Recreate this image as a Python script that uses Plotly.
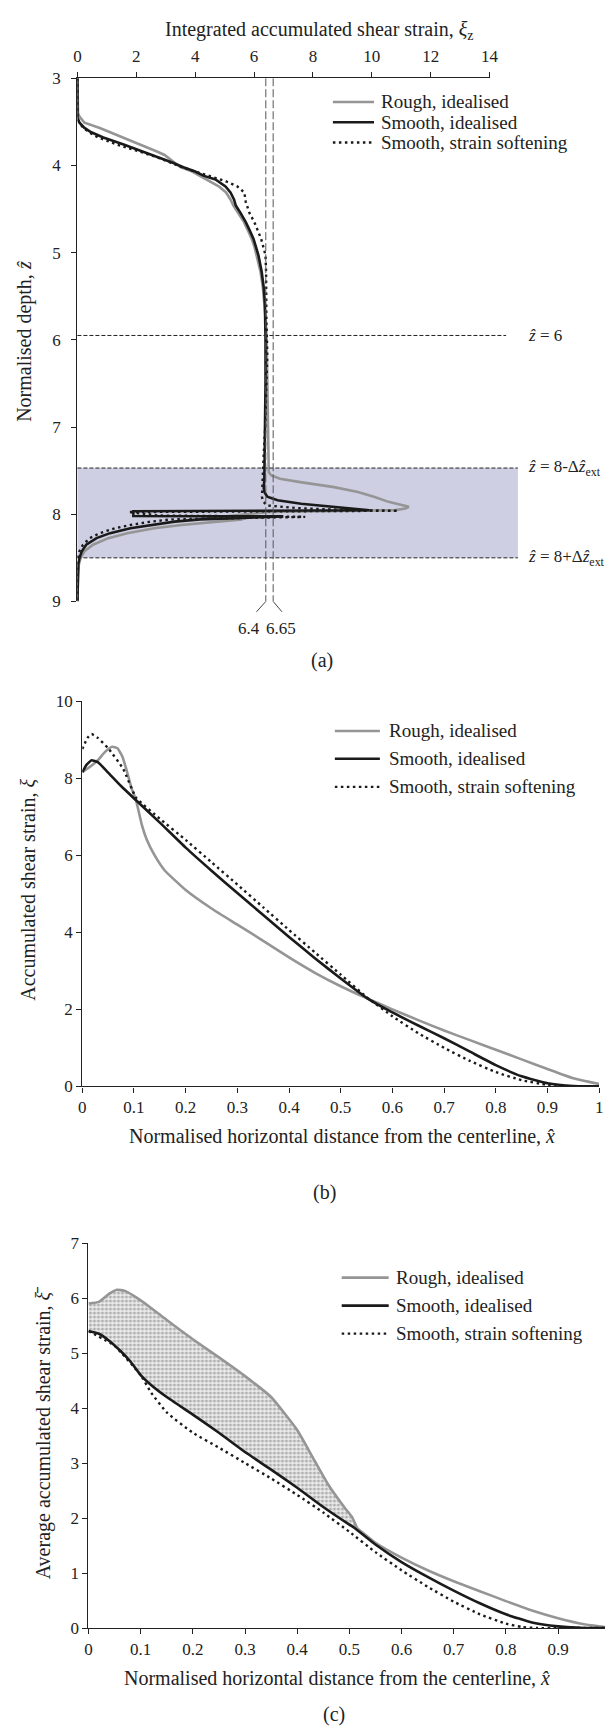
import plotly.graph_objects as go

W, H = 615, 1733
SERIF = "Liberation Serif, Times New Roman, Times, serif"
BLACK = "#1a1a1a"
GRAY = "#959595"

series_names = ["Rough, idealised", "Smooth, idealised", "Smooth, strain softening"]

# ---------------- (a) integrated strain vs depth ----------------
a_rough_z = [3.0, 3.3, 3.4, 3.44, 3.51, 3.57, 3.63, 3.68, 3.74, 3.79,
             3.84, 3.88, 3.93, 3.97, 4.02, 4.07, 4.12, 4.18, 4.24, 4.31,
             4.39, 4.46, 4.55, 4.65, 4.75, 4.84, 4.94, 5.03, 5.22, 5.4,
             5.59, 5.78, 6.0, 6.5, 7.0, 7.3, 7.47, 7.52, 7.556, 7.594,
             7.632, 7.689, 7.745, 7.802, 7.858, 7.896, 7.915, 7.934, 7.953, 7.975,
             8.04, 8.059, 8.085, 8.123, 8.16, 8.217, 8.274, 8.35, 8.425, 8.5,
             8.575, 8.7, 9.0]
a_rough_x = [0, 0, 0.02, 0.07, 0.24, 0.76, 1.2, 1.57, 2.0, 2.38,
             2.7, 2.96, 3.15, 3.3, 3.5, 3.9, 4.15, 4.5, 4.8, 5.05,
             5.2, 5.3, 5.48, 5.66, 5.8, 5.92, 6.02, 6.09, 6.22, 6.30,
             6.36, 6.4, 6.43, 6.45, 6.46, 6.47, 6.48, 6.5, 6.59, 6.88,
             7.57, 8.72, 9.53, 10.1, 10.57, 10.97, 11.26, 11.14, 10.8, 6.5,
             4.5, 5.61, 4.68, 3.53, 2.61, 1.69, 1.05, 0.53, 0.24, 0.11,
             0.05, 0.02, 0.0]

a_smooth_z = [3.0, 3.45, 3.51, 3.57, 3.62, 3.68, 3.76, 3.83, 3.9, 3.97,
              4.02, 4.07, 4.12, 4.16, 4.24, 4.31, 4.39, 4.46, 4.55, 4.65,
              4.75, 4.84, 4.94, 5.03, 5.22, 5.4, 5.59, 5.78, 6.0, 6.5,
              7.0, 7.3, 7.5, 7.6, 7.7, 7.75, 7.8, 7.84, 7.88, 7.91,
              7.94, 7.955, 7.965, 8.02, 8.025, 8.059, 8.085, 8.123, 8.16, 8.217,
              8.274, 8.35, 8.425, 8.5, 8.575, 9.0]
a_smooth_x = [0, 0, 0.07, 0.24, 0.47, 0.88, 1.57, 2.15, 2.72, 3.24,
              3.6, 4.0, 4.3, 4.69, 5.03, 5.2, 5.32, 5.38, 5.55, 5.72,
              5.86, 5.98, 6.07, 6.15, 6.26, 6.33, 6.37, 6.39, 6.39, 6.39,
              6.38, 6.38, 6.37, 6.35, 6.33, 6.36, 6.45, 6.8, 7.6, 8.6,
              9.5, 9.93, 1.9, 1.9, 6.99, 4.17, 3.30, 2.49, 1.80, 1.11,
              0.65, 0.30, 0.15, 0.07, 0.03, 0.0]

a_soft_z = [3.0, 3.45, 3.52, 3.58, 3.63, 3.68, 3.76, 3.83, 3.9, 3.97,
            4.02, 4.07, 4.12, 4.18, 4.24, 4.31, 4.42, 4.55, 4.65, 4.75,
            4.84, 4.94, 5.03, 5.22, 5.4, 5.6, 5.8, 6.0, 6.2, 6.5,
            7.0, 7.3, 7.5, 7.6, 7.7, 7.8, 7.85, 7.9, 7.93, 7.95,
            7.96, 7.975, 8.015, 8.03, 8.059, 8.085, 8.123, 8.16, 8.217, 8.274,
            8.35, 8.425, 8.5, 9.0]
a_soft_x = [0, 0, 0.07, 0.24, 0.45, 0.71, 1.34, 2.03, 2.66, 3.18,
            3.55, 4.0, 4.46, 5.03, 5.43, 5.67, 5.72, 5.85, 6.01, 6.14,
            6.24, 6.32, 6.39, 6.41, 6.41, 6.41, 6.42, 6.44, 6.45, 6.42,
            6.38, 6.33, 6.31, 6.3, 6.28, 6.27, 6.3, 6.45, 7.5, 9.0,
            10.9, 1.74, 2.72, 7.74, 3.19, 2.49, 1.80, 1.28, 0.76, 0.42,
            0.19, 0.07, 0.02, 0.0]

a_guides_x = [6.4, 6.65]
a_guide_labels = ["6.4", "6.65"]
a_z6 = 5.95
a_band = [7.47, 8.5]

# ---------------- (b) accumulated strain vs distance ----------------
b_rough_x = [0, 0.015, 0.03, 0.045, 0.058, 0.068, 0.078, 0.088, 0.095, 0.104,
             0.115, 0.125, 0.14, 0.16, 0.2, 0.25, 0.3, 0.35, 0.4, 0.45,
             0.5, 0.55, 0.6, 0.65, 0.7, 0.75, 0.8, 0.85, 0.9, 0.95, 1.0]
b_rough_y = [8.16, 8.3, 8.47, 8.7, 8.82, 8.78, 8.55, 8.1, 7.75, 7.43,
             6.8, 6.4, 6.0, 5.6, 5.1, 4.62, 4.2, 3.78, 3.35, 2.95,
             2.6, 2.29, 2.0, 1.72, 1.45, 1.2, 0.95, 0.7, 0.45, 0.21, 0.06]

b_smooth_x = [0, 0.008, 0.018, 0.03, 0.05, 0.075, 0.104, 0.15, 0.2, 0.25,
              0.3, 0.35, 0.4, 0.45, 0.5, 0.55, 0.6, 0.65, 0.7, 0.75,
              0.8, 0.85, 0.9, 0.95, 1.0]
b_smooth_y = [8.16, 8.35, 8.47, 8.42, 8.15, 7.8, 7.43, 6.85, 6.2, 5.6,
              5.02, 4.45, 3.88, 3.33, 2.8, 2.3, 1.92, 1.58, 1.25, 0.9,
              0.55, 0.26, 0.08, 0.01, 0.0]

b_soft_x = [0, 0.01, 0.018, 0.03, 0.05, 0.079, 0.104, 0.15, 0.2, 0.25,
            0.3, 0.35, 0.4, 0.45, 0.5, 0.55, 0.6, 0.65, 0.7, 0.75,
            0.8, 0.85, 0.9, 0.95, 1.0]
b_soft_y = [8.76, 9.05, 9.15, 9.05, 8.78, 8.25, 7.5, 6.95, 6.4, 5.82,
            5.24, 4.65, 4.06, 3.48, 2.9, 2.32, 1.82, 1.38, 1.0, 0.66,
            0.37, 0.16, 0.04, 0.0, 0.0]

# ---------------- (c) average accumulated strain vs distance ----------------
c_rough_x = [0, 0.02, 0.04, 0.055, 0.07, 0.09, 0.12, 0.15, 0.2, 0.25,
             0.3, 0.35, 0.4, 0.43, 0.46, 0.49, 0.505, 0.515, 0.53, 0.55,
             0.6, 0.65, 0.7, 0.75, 0.8, 0.85, 0.9, 0.95, 0.99]
c_rough_y = [5.9, 5.93, 6.08, 6.15, 6.13, 6.02, 5.82, 5.6, 5.25, 4.92,
             4.58, 4.2, 3.6, 3.1, 2.6, 2.2, 2.02, 1.82, 1.7, 1.55,
             1.28, 1.05, 0.85, 0.67, 0.49, 0.32, 0.18, 0.07, 0.02]

c_smooth_x = [0, 0.02, 0.04, 0.06, 0.08, 0.1, 0.12, 0.15, 0.2, 0.25,
              0.3, 0.35, 0.4, 0.45, 0.5, 0.51, 0.55, 0.6, 0.65, 0.7,
              0.75, 0.8, 0.85, 0.9, 0.95, 0.99]
c_smooth_y = [5.4, 5.35, 5.22, 5.05, 4.85, 4.6, 4.42, 4.2, 3.88, 3.55,
              3.2, 2.88, 2.55, 2.2, 1.88, 1.82, 1.52, 1.2, 0.93, 0.68,
              0.45, 0.25, 0.1, 0.03, 0.0, 0.0]

c_soft_x = [0, 0.05, 0.1, 0.12, 0.15, 0.2, 0.25, 0.3, 0.35, 0.4,
            0.45, 0.5, 0.55, 0.6, 0.65, 0.7, 0.75, 0.8, 0.83, 0.86,
            0.9, 0.99]
c_soft_y = [5.4, 5.13, 4.6, 4.28, 3.92, 3.55, 3.28, 3.0, 2.72, 2.42,
            2.1, 1.75, 1.38, 1.05, 0.75, 0.48, 0.25, 0.08, 0.02, 0.0,
            0.0, 0.0]
c_fill_end = 0.515

for a, b in [(a_rough_z, a_rough_x), (a_smooth_z, a_smooth_x), (a_soft_z, a_soft_x),
             (b_rough_x, b_rough_y), (b_smooth_x, b_smooth_y), (b_soft_x, b_soft_y),
             (c_rough_x, c_rough_y), (c_smooth_x, c_smooth_y), (c_soft_x, c_soft_y)]:
    assert len(a) == len(b), (len(a), len(b))

# ---------------- layout helpers (pixel frame -> paper) ----------------
def px(v):
    return v / W


def py(v):
    return 1 - v / H


A_X, A_Y = (75, 496), (70, 599)
B_X, B_Y = (80, 608), (700, 1089.3)
C_X, C_Y = (86.3, 614.0), (1247.7, 1637)
A_XR, A_YR = (0, 14), (9, 3)
B_XR, B_YR = (0, 1), (0, 10)
C_XR, C_YR = (0, 0.99), (0, 7)


def a_xpix(v):
    return A_X[0] + (v - A_XR[0]) / (A_XR[1] - A_XR[0]) * (A_X[1] - A_X[0])


def a_ypix(v):
    return A_Y[0] + (v - A_YR[1]) / (A_YR[0] - A_YR[1]) * (A_Y[1] - A_Y[0])


fig = go.Figure()

styles = [dict(color=GRAY, width=2.6),
          dict(color=BLACK, width=2.6),
          dict(color=BLACK, width=2.4, dash="2.5px,3.5px")]

# (c) shaded region between rough and smooth curves
lo_x = [x for x in c_smooth_x if x <= c_fill_end]
lo_y = [y for x, y in zip(c_smooth_x, c_smooth_y) if x <= c_fill_end]
hi_x = [x for x in c_rough_x if x <= c_fill_end]
hi_y = [y for x, y in zip(c_rough_x, c_rough_y) if x <= c_fill_end]
fig.add_trace(go.Scatter(x=lo_x, y=lo_y, mode="lines", line=dict(width=0, shape="spline", smoothing=0.4),
                         showlegend=False, hoverinfo="skip", xaxis="x3", yaxis="y3"))
fig.add_trace(go.Scatter(x=hi_x, y=hi_y, mode="lines", line=dict(width=0, shape="spline", smoothing=0.4),
                         fill="tonexty", fillcolor="rgba(0,0,0,0)",
                         fillpattern=dict(shape=".", size=4, solidity=0.45,
                                          fgcolor="#6f6f6f", bgcolor="#ececec"),
                         showlegend=False, hoverinfo="skip", xaxis="x3", yaxis="y3"))

panels = [
    ("x", "y", "linear", [(a_rough_x, a_rough_z), (a_smooth_x, a_smooth_z), (a_soft_x, a_soft_z)]),
    ("x2", "y2", "spline", [(b_rough_x, b_rough_y), (b_smooth_x, b_smooth_y), (b_soft_x, b_soft_y)]),
    ("x3", "y3", "spline", [(c_rough_x, c_rough_y), (c_smooth_x, c_smooth_y), (c_soft_x, c_soft_y)]),
]
for xa, ya, shp, data in panels:
    for i, (xs, ys) in enumerate(data):
        st = dict(styles[i])
        st["shape"] = shp
        if shp == "spline":
            st["smoothing"] = 0.4
        fig.add_trace(go.Scatter(x=xs, y=ys, mode="lines", line=st, name=series_names[i],
                                 xaxis=xa, yaxis=ya, showlegend=False))

tickfont = dict(family=SERIF, size=17, color="#222")
axis_common = dict(showgrid=False, zeroline=False, showline=True, linecolor="#222", linewidth=1.4,
                   ticks="outside", ticklen=5, tickwidth=1.2, tickcolor="#222", tickfont=tickfont,
                   mirror=False)

layout = dict(
    width=W, height=H, autosize=False,
    margin=dict(l=0, r=0, t=0, b=0),
    paper_bgcolor="white", plot_bgcolor="white",
    font=dict(family=SERIF, size=17, color="#222"),
    showlegend=False,
    xaxis=dict(domain=[px(A_X[0]), px(A_X[1])], range=list(A_XR), dtick=2, side="top",
               anchor="y", ticklabelstandoff=3, **axis_common),
    yaxis=dict(domain=[py(A_Y[1]), py(A_Y[0])], range=list(A_YR), dtick=1, anchor="x",
               ticklabelstandoff=7, **axis_common),
    xaxis2=dict(domain=[px(B_X[0]), px(B_X[1])], range=list(B_XR), dtick=0.1, anchor="y2",
                **axis_common),
    yaxis2=dict(domain=[py(B_Y[1]), py(B_Y[0])], range=list(B_YR), dtick=2, anchor="x2",
                **axis_common),
    xaxis3=dict(domain=[px(C_X[0]), px(C_X[1])], range=list(C_XR), dtick=0.1, anchor="y3",
                **axis_common),
    yaxis3=dict(domain=[py(C_Y[1]), py(C_Y[0])], range=list(C_YR), dtick=1, anchor="x3",
                **axis_common),
)
fig.update_layout(**layout)

shapes = []
ann = []


def text(x, y, s, size=20, angle=0, xanchor="center"):
    ann.append(dict(x=px(x), y=py(y), xref="paper", yref="paper", text=s, showarrow=False,
                    textangle=angle, xanchor=xanchor, yanchor="middle",
                    font=dict(family=SERIF, size=size, color="#222")))


# ---------------- legends (line sample + label per series) ----------------
legend_boxes = [  # (line start, line end, text start, row y's) in pixels
    (336, 378, 383, [94, 114.5, 135]),
    (338, 384, 391, [730, 758, 786.5]),
    (345, 393, 398, [1282.7, 1311, 1339.3]),
]
for x0, x1, tx, rows in legend_boxes:
    for i, ry in enumerate(rows):
        ln = dict(color=styles[i]["color"], width=styles[i]["width"])
        if "dash" in styles[i]:
            ln["dash"] = styles[i]["dash"]
        shapes.append(dict(type="line", xref="paper", yref="paper", x0=px(x0), x1=px(x1),
                           y0=py(ry), y1=py(ry), line=ln))
        text(tx, ry, series_names[i], size=19, xanchor="left")

# ---------------- shapes for panel (a) ----------------
BAND_END, Z6_END, LABEL_X = 525, 513, 533
shapes.append(dict(type="rect", xref="paper", yref="paper", x0=px(A_X[0]), x1=px(BAND_END),
                   y0=py(a_ypix(a_band[0])), y1=py(a_ypix(a_band[1])),
                   fillcolor="#cfcfe4", line=dict(width=0), layer="below"))
for zv in a_band:
    shapes.append(dict(type="line", xref="paper", yref="paper", x0=px(A_X[0]), x1=px(BAND_END),
                       y0=py(a_ypix(zv)), y1=py(a_ypix(zv)),
                       line=dict(color="#222", width=1, dash="4px,2px")))
shapes.append(dict(type="line", xref="paper", yref="paper", x0=px(A_X[0]), x1=px(Z6_END),
                   y0=py(a_ypix(a_z6)), y1=py(a_ypix(a_z6)),
                   line=dict(color="#222", width=1, dash="4px,2px")))
offsets = [-9.5, 9]
for gx, off in zip(a_guides_x, offsets):
    shapes.append(dict(type="line", xref="x", yref="y", x0=gx, x1=gx, y0=A_YR[1], y1=A_YR[0],
                       line=dict(color="#555", width=1, dash="8px,3px")))
    xp = a_xpix(gx)
    shapes.append(dict(type="line", xref="paper", yref="paper", x0=px(xp), x1=px(xp + off),
                       y0=py(A_Y[1]), y1=py(A_Y[1] + 10.5), line=dict(color="#444", width=1)))
fig.update_layout(shapes=shapes)

# ---------------- annotations ----------------
text(322, 22, "Integrated accumulated shear strain, <i>ξ</i><sub>z</sub>")
text(21, 336, "Normalised depth, <i>ẑ</i>", angle=-90)
text(LABEL_X, a_ypix(a_z6), "<i>ẑ</i> = 6", size=17, xanchor="left")
text(LABEL_X, a_ypix(a_band[0]), "<i>ẑ</i> = 8-Δ<i>ẑ</i><sub>ext</sub>", size=17, xanchor="left")
text(LABEL_X, a_ypix(a_band[1]), "<i>ẑ</i> = 8+Δ<i>ẑ</i><sub>ext</sub>", size=17, xanchor="left")
text(a_xpix(a_guides_x[0]) - 17, 626, a_guide_labels[0], size=17)
text(a_xpix(a_guides_x[1]) + 8, 626, a_guide_labels[1], size=17)
text(325, 659, "(a)")

text(25, 890, "Accumulated shear strain, <i>ξ</i>", angle=-90)
text(345, 1139, "Normalised horizontal distance from the centerline, <i>x̂</i>")
text(327, 1197, "(b)")

text(40, 1440, "Average accumulated shear strain, <i>ξ̄</i>", angle=-90)
text(340, 1687, "Normalised horizontal distance from the centerline, <i>x̂</i>")
text(337, 1724, "(c)")

fig.update_layout(annotations=ann)

fig.write_html("out.html")
